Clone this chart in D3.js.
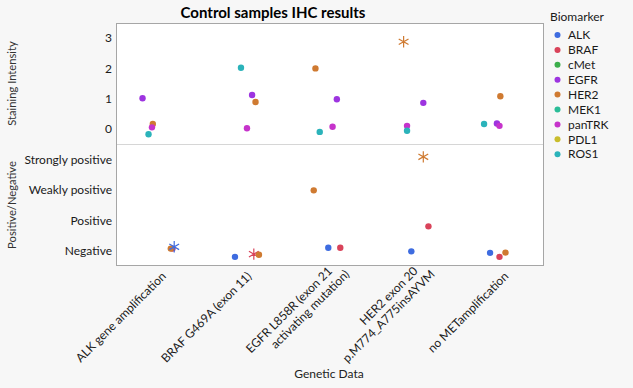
<!DOCTYPE html>
<html><head><meta charset="utf-8">
<script src="https://cdn.jsdelivr.net/npm/d3@7"></script>
<style>
html,body{margin:0;padding:0;background:#f7f7f7;}
text{font-family:"Segoe UI",Lato,"Noto Sans",sans-serif;fill:#1a1a1a;}
</style></head>
<body><svg id="chart" width="633" height="388"></svg>
<script>
// ---------- data ----------
const categories = [
  ["ALK gene amplification"],
  ["BRAF G469A (exon 11)"],
  ["EGFR L858R (exon 21", "activating mutation)"],
  ["HER2 exon 20", "p.M774_A775insAYVM"],
  ["no METamplification"]
];
const biomarkers = ["ALK","BRAF","cMet","EGFR","HER2","MEK1","panTRK","PDL1","ROS1"];
const intensityTicks = [0,1,2,3];
const resultLabels = ["Negative","Positive","Weakly positive","Strongly positive"];

// Staining intensity panel: category index, jitter within category, biomarker, value, marker
const intCat    = [0,0,0,0, 1,1,1,1, 2,2,2,2, 3,3,3,3, 4,4,4,4];
const intJitter = [-0.19,-0.07,-0.08,-0.12, -0.04,0.09,0.13,0.03, -0.17,-0.12,0.03,0.08, -0.14,-0.10,-0.10,0.09, -0.20,-0.05,-0.02,-0.01];
const intMarker = ["EGFR","HER2","panTRK","ROS1", "ROS1","EGFR","HER2","panTRK", "HER2","ROS1","panTRK","EGFR", "HER2","panTRK","ROS1","EGFR", "ROS1","EGFR","panTRK","HER2"];
const intValue  = [1.01,0.16,0.05,-0.18, 2.02,1.12,0.89,0.02, 2.0,-0.10,0.07,0.98, 2.88,0.10,-0.06,0.86, 0.16,0.18,0.10,1.08];
const intShape  = ["dot","dot","dot","dot", "dot","dot","dot","dot", "dot","dot","dot","dot", "star","dot","dot","dot", "dot","dot","dot","dot"];

// Positive/Negative panel (0 = Negative ... 3 = Strongly positive)
const resCat    = [0,0,0, 1,1,1, 2,2,2, 3,3,3, 4,4,4];
const resJitter = [0.16,0.14,0.18, -0.11,0.11,0.17, -0.19,-0.02,0.12, 0.09,0.15,-0.05, -0.13,-0.02,0.05];
const resMarker = ["BRAF","HER2","ALK", "ALK","BRAF","HER2", "HER2","ALK","BRAF", "HER2","BRAF","ALK", "ALK","BRAF","HER2"];
const resValue  = [0.07,0.07,0.13, -0.20,-0.11,-0.13, 1.98,0.10,0.10, 3.08,0.80,-0.02, -0.07,-0.20,-0.06];
const resShape  = ["dot","dot","star", "dot","star","dot", "dot","dot","dot", "star","dot","dot", "dot","dot","dot"];

// ---------- style ----------
const colorList = ["#3e6ce0","#d9435a","#3cae4b","#9d34e0","#cf7a31","#2bbd98","#c633cb","#c9bd2c","#2bb3ba"];
const color = d3.scaleOrdinal().domain(biomarkers).range(colorList);

const svg = d3.select("#chart");
svg.append("rect").attr("width",633).attr("height",388).attr("fill","#f7f7f7");

const L = 116, R = 544, T = 23, MID = 144, B = 266;
const x = d3.scaleLinear().domain([-0.5, 4.5]).range([L, R]);
const yTop = d3.scaleLinear().domain([-0.5, 3.5]).range([MID, T]);
const yBot = d3.scaleLinear().domain([-0.5, 3.5]).range([B, MID]);

svg.append("rect").attr("x",L).attr("y",T).attr("width",R-L).attr("height",B-T).attr("fill","#fff");
svg.append("line").attr("x1",L).attr("x2",R).attr("y1",MID+0.5).attr("y2",MID+0.5).attr("stroke","#d6d6d6");
svg.append("rect").attr("x",L+0.5).attr("y",T+0.5).attr("width",R-L-1).attr("height",B-T-1)
  .attr("fill","none").attr("stroke","#a6a6a6");

// title
svg.append("text").attr("x",273).attr("y",18).attr("text-anchor","middle")
  .style("font-size","15px").style("font-weight","bold").style("fill","#000").text("Control samples IHC results");

// y axes
const axT = svg.append("g").attr("transform",`translate(${L},0)`)
  .call(d3.axisLeft(yTop).tickValues(intensityTicks).tickFormat(d3.format("d")).tickSize(0).tickPadding(4));
const axB = svg.append("g").attr("transform",`translate(${L},0)`)
  .call(d3.axisLeft(yBot).tickValues([0,1,2,3]).tickFormat(d => resultLabels[d]).tickSize(0).tickPadding(4));
[axT, axB].forEach(a => {
  a.select(".domain").remove();
  a.selectAll("text").style("font-size","12px").style("font-family",'"Segoe UI",Lato,"Noto Sans",sans-serif').attr("fill","#1a1a1a");
});

svg.append("text").attr("transform",`translate(12,${(T+MID)/2}) rotate(-90)`).attr("text-anchor","middle")
  .attr("dy","0.35em").style("font-size","11.2px").style("fill","#333").text("Staining Intensity");
svg.append("text").attr("transform",`translate(12,${(MID+B)/2}) rotate(-90)`).attr("text-anchor","middle")
  .attr("dy","0.35em").style("font-size","11.2px").style("fill","#333").text("Positive/Negative");

// x labels
categories.forEach((lines, i) => {
  const g = svg.append("g").attr("transform",`translate(${x(i)+5},${B+8}) rotate(-45)`);
  const t = g.append("text").attr("text-anchor","end").style("font-size","12px");
  const n = lines.length;
  lines.forEach((ln, k) => {
    t.append("tspan").attr("x", k*10).attr("y", 0)
      .attr("dy", ((k-(n-1)/2)*1.2 + 0.35) + "em").text(ln);
  });
});
svg.append("text").attr("x",329).attr("y",378).attr("text-anchor","middle")
  .style("font-size","12px").style("fill","#222").text("Genetic Data");

// markers
const star = d3.symbol().type(d3.symbolAsterisk).size(90);
function drawPoints(cat, jit, mk, val, shp, y) {
  const data = cat.map((c,i) => ({c, j:jit[i], m:mk[i], v:val[i], s:shp[i]}));
  const g = svg.append("g");
  data.forEach(d => {
    const px = x(d.c + d.j), py = y(d.v);
    if (d.s === "star") {
      g.append("path").attr("d", star()).attr("transform",`translate(${px},${py})`)
        .attr("fill","none").attr("stroke", color(d.m)).attr("stroke-width",1.2);
    } else {
      g.append("circle").attr("cx",px).attr("cy",py).attr("r",3.2).attr("fill",color(d.m));
    }
  });
}
drawPoints(intCat,intJitter,intMarker,intValue,intShape,yTop);
drawPoints(resCat,resJitter,resMarker,resValue,resShape,yBot);

// legend
svg.append("text").attr("x",550).attr("y",17).attr("dy","0.35em").style("font-size","12px").text("Biomarker");
const lg = svg.append("g");
biomarkers.forEach((b,i) => {
  const yy = 35 + i*14.9;
  lg.append("circle").attr("cx",557.5).attr("cy",yy).attr("r",3).attr("fill",color(b));
  lg.append("text").attr("x",568).attr("y",yy).attr("dy","0.35em").style("font-size","12px").text(b);
});
</script></body></html>
